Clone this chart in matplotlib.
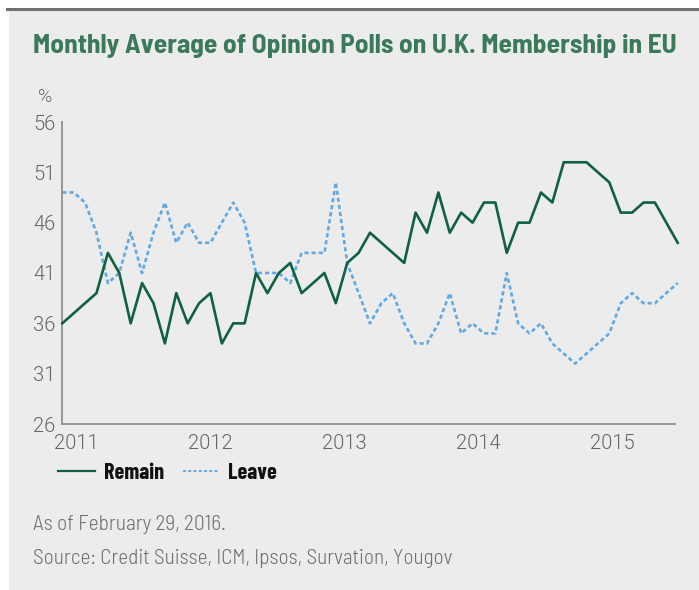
import numpy as np
import matplotlib
matplotlib.use("Agg")
import matplotlib.pyplot as plt
from matplotlib.patches import Rectangle
from matplotlib.lines import Line2D

# monthly averages, Jan 2011 .. Jul 2015
remain = [36, 37, 38, 39, 43, 41, 36, 40, 38, 34, 39, 36,
          38, 39, 34, 36, 36, 41, 39, 41, 42, 39, 40, 41,
          38, 42, 43, 45, 44, 43, 42, 47, 45, 49, 45, 47,
          46, 48, 48, 43, 46, 46, 49, 48, 52, 52, 52, 51,
          50, 47, 47, 48, 48, 46, 44]
leave = [49, 49, 48, 45, 40, 41, 45, 41, 45, 48, 44, 46,
         44, 44, 46, 48, 46, 41, 41, 41, 40, 43, 43, 43,
         50, 42, 39, 36, 38, 39, 36, 34, 34, 36, 39, 35,
         36, 35, 35, 41, 36, 35, 36, 34, 33, 32, 33, 34,
         35, 38, 39, 38, 38, 39, 40]
years = ["2011", "2012", "2013", "2014", "2015"]
yticks = [26, 31, 36, 41, 46, 51, 56]

title = "Monthly Average of Opinion Polls on U.K. Membership in EU"
note = "As of February 29, 2016."
source = "Source: Credit Suisse, ICM, Ipsos, Survation, Yougov"

green = "#0f6140"
blue = "#62a9e4"
grey_txt = "#666666"
cond = ["Barlow Condensed", "DejaVu Sans"]
semi = ["Barlow Semi Condensed", "DejaVu Sans"]
tick_font = ["Roboto", "DejaVu Sans"]

W, H = 699, 590
fig = plt.figure(figsize=(W / 100, H / 100), dpi=100)
fig.patch.set_facecolor("white")
# grey panel + top rule
fig.patches.append(Rectangle((9 / W, 0), 1, 1 - 10 / H, transform=fig.transFigure,
                             facecolor="#ececec", edgecolor="none", zorder=-5))
fig.add_artist(Line2D([7 / W, 1], [1 - 8.5 / H, 1 - 8.5 / H], transform=fig.transFigure,
                      color="#707070", lw=2.2, zorder=-4))

ax = fig.add_axes([62.3 / W, 1 - 424 / H, 615.4 / W, 302 / H])
ax.set_zorder(2)
ax.set_facecolor("none")
x = np.arange(len(remain))
ax.plot(x, remain, color=green, lw=1.9, label="Remain", clip_on=False, zorder=3)
ax.plot(x, leave, color=blue, lw=1.9, dashes=(1.6, 1.1), label="Leave",
        clip_on=False, zorder=2)

ax.set_xlim(0, 54)
ax.set_ylim(26, 56)
ax.set_yticks(yticks)
ax.set_yticklabels([str(v) for v in yticks])
ax.set_xticks(1.26 + 11.76 * np.arange(len(years)))
ax.set_xticklabels(years)
for s in ("top", "right"):
    ax.spines[s].set_visible(False)
for s in ("left", "bottom"):
    ax.spines[s].set_color("#8f8f8f")
    ax.spines[s].set_linewidth(1.3)
ax.spines["bottom"].set_bounds(0, 53.8)
ax.tick_params(axis="both", length=0, labelsize=14.5, labelcolor=grey_txt)
ax.tick_params(axis="y", pad=5)
ax.tick_params(axis="x", pad=7)
for lab in ax.get_xticklabels() + ax.get_yticklabels():
    lab.set_family(tick_font)
    lab.set_fontweight(300)

fig.text(45 / W, 1 - 97 / H, "%", ha="center", va="center", fontsize=14,
         color=grey_txt, family=tick_font, fontweight=300)

fig.text(33 / W, 1 - 53 / H, title, ha="left", va="baseline", fontsize=19.7,
         fontweight="bold", color="#3a7a5b", family=semi)

handles = [Line2D([], [], color=green, lw=1.6),
           Line2D([], [], color=blue, lw=1.4, dashes=(1.5, 1.2))]
leg = fig.legend(handles, ["Remain", "Leave"], loc="center left",
                 bbox_to_anchor=(58 / W, 1 - 473 / H), ncol=2, frameon=False,
                 borderpad=0, borderaxespad=0, handlelength=1.65,
                 handletextpad=0.4, columnspacing=0.85,
                 prop={"family": cond, "weight": "bold", "size": 16})
for t in leg.get_texts():
    t.set_color("#111111")

fig.text(33 / W, 1 - 530 / H, note, ha="left", va="baseline", fontsize=15.5,
         color="#6e6e6e", family=semi, fontweight=300)
fig.text(33 / W, 1 - 564 / H, source, ha="left", va="baseline", fontsize=15.3,
         color="#6e6e6e", family=semi, fontweight=300)

fig.savefig("out.png", dpi=100, facecolor=fig.get_facecolor())
